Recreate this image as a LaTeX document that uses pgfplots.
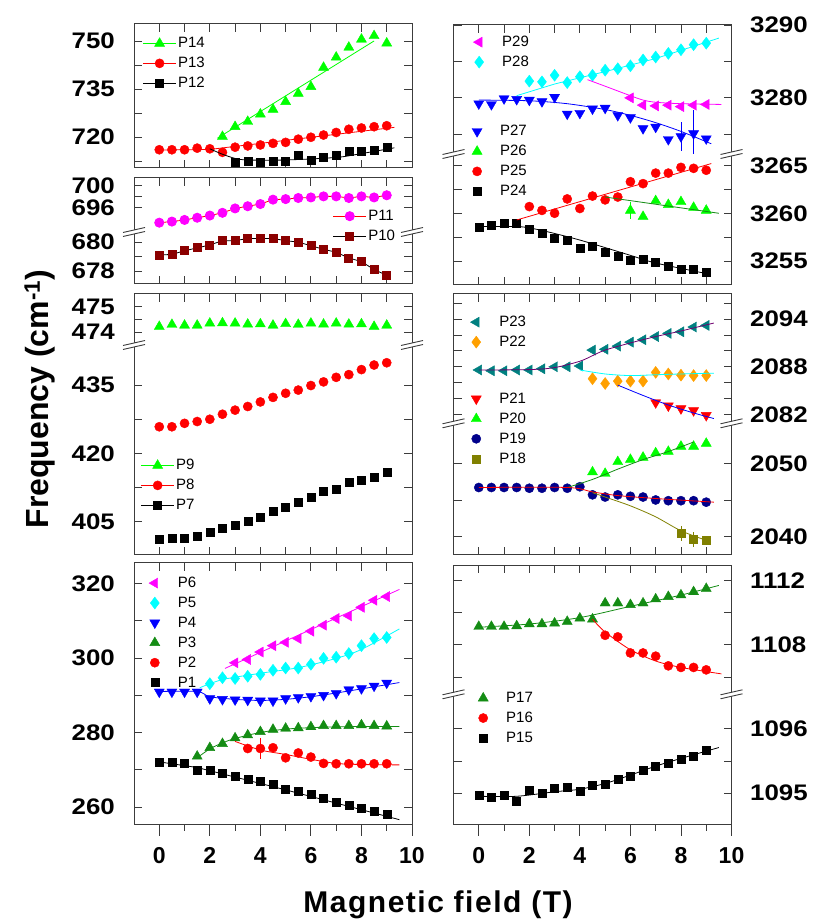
\documentclass[border=0pt]{standalone}
\usepackage{fontspec}
\setmainfont{Liberation Sans}
\newfontfamily\tickfont[FakeStretch=1.15]{Liberation Sans}
\usepackage{pgfplots}
\pgfplotsset{compat=1.18}

\definecolor{cgreen}{RGB}{0,255,0}
\definecolor{cred}{RGB}{255,0,0}
\definecolor{cmag}{RGB}{255,0,255}
\definecolor{cdred}{RGB}{139,0,0}
\definecolor{ccyan}{RGB}{0,255,255}
\definecolor{cblue}{RGB}{0,0,255}
\definecolor{cdgreen}{RGB}{20,140,20}
\definecolor{cteal}{RGB}{0,128,128}
\definecolor{corange}{RGB}{255,160,0}
\definecolor{cnavy}{RGB}{0,0,139}
\definecolor{colive}{RGB}{128,128,0}
\definecolor{cpurple}{RGB}{110,0,110}
\definecolor{cframe}{RGB}{60,60,60}

\pgfplotsset{
  base/.style={scale only axis, xmin=-1, xmax=10, width=278pt,
    xtick={0,2,4,6,8,10}, minor xtick={1,3,5,7,9}, xticklabels={},
    tick align=inside, major tick length=8pt, minor tick length=8pt,
    every tick/.style={cframe, line width=0.9pt},
    axis line style={draw=none},
    ytick pos=both,
    clip mode=individual,
    /pgf/number format/assume math mode=true,
    /pgf/number format/1000 sep={},
    scaled y ticks=false,
    legend cell align=left,
    legend style={draw=none, fill=none, font=\fontsize{15}{15}\selectfont, inner sep=0pt, row sep=0pt, nodes={inner xsep=2pt, inner ysep=4pt}},
  },
  Lcol/.style={base, yticklabel style={font=\tickfont\fontsize{22.5}{22.5}\selectfont\bfseries, inner sep=0pt, anchor=east, xshift=-19pt}},
  Rcol/.style={base, yticklabel pos=right, yticklabel style={font=\tickfont\fontsize{22.5}{22.5}\selectfont\bfseries, inner sep=0pt, anchor=west, xshift=18.5pt}},
  frame full/.style={after end axis/.append code={\draw[cframe, line width=1pt] (rel axis cs:0,0) rectangle (rel axis cs:1,1);}},
  frame up/.style={xtick pos=right, after end axis/.append code={\draw[cframe, line width=1pt] (rel axis cs:0,0) -- (rel axis cs:0,1) -- (rel axis cs:1,1) -- (rel axis cs:1,0);}},
  frame low/.style={xtick pos=left, after end axis/.append code={\draw[cframe, line width=1pt] (rel axis cs:0,1) -- (rel axis cs:0,0) -- (rel axis cs:1,0) -- (rel axis cs:1,1);}},
  legLM/.style={legend image code/.code={\path[draw=none, fill=none] (0pt,-4pt) rectangle (33pt,4pt); \draw[##1, overlay, line width=0.8pt] (0pt,0pt) -- (33pt,0pt); \draw[##1, overlay] plot coordinates {(16.5pt,0pt)};}},
  legM/.style={legend image code/.code={\path[draw=none, fill=none] (0pt,-4pt) rectangle (28pt,4pt); \draw[##1, overlay] plot coordinates {(7pt,0pt)};}},
  sq/.style={only marks, mark=square*, mark size=4pt},
  ci/.style={only marks, mark=*, mark size=4.6pt},
  tu/.style={only marks, mark=triangle*, mark size=5.8pt},
  td/.style={only marks, mark=triangle*, mark size=5.8pt, mark options={rotate=180}},
  tl/.style={only marks, mark=triangle*, mark size=5.8pt, mark options={rotate=90}},
  di/.style={only marks, mark=diamond*, mark size=6pt},
  fit/.style={no markers, line width=0.8pt, forget plot},
  ebar/.style={error bars/y dir=both, error bars/y explicit, error bars/error mark=none, error bars/error bar style={line width=0.8pt}},
  xbot/.style={base, hide y axis, ymin=0, ymax=1, xtick pos=left, tick align=outside,
    major tick length=11pt, minor tick length=6pt, xticklabels={0,2,4,6,8,10},
    xticklabel style={font=\fontsize{23}{23}\selectfont\bfseries, inner sep=0pt, anchor=north, yshift=-12pt}},
}

\newcommand{\brk}[2]{%
  \fill[white] (#1pt-11pt,#2pt-4.5pt) -- (#1pt+11pt,#2pt+0.5pt) -- (#1pt+11pt,#2pt+4.5pt) -- (#1pt-11pt,#2pt-0.5pt) -- cycle;
  \draw[cframe, line width=0.9pt] (#1pt-11pt,#2pt-4.5pt) -- (#1pt+11pt,#2pt+0.5pt);
  \draw[cframe, line width=0.9pt] (#1pt-11pt,#2pt-0.5pt) -- (#1pt+11pt,#2pt+4.5pt);}

\begin{document}
\begin{tikzpicture}
\useasboundingbox (0,0) rectangle (813pt,919pt);

% ================= LEFT COLUMN =================
% Panel A: P12-P14
\begin{axis}[Lcol, frame full, at={(134pt,751pt)}, anchor=south west, height=144pt,
  ymin=710.3, ymax=755.3, ytick={720,735,750}, minor ytick={712.5,727.5,742.5},
  legLM, legend style={at={(axis description cs:0.032,0.935)}, anchor=north west}]
\addplot[tu, color=cgreen] coordinates {(2.5,720.1)(3,723.2)(3.5,724.8)(4,727.1)(4.5,728.6)(5,731.0)(5.5,733.6)(6,735.7)(6.5,741.7)(7,744.9)(7.5,748.0)(8,750.5)(8.5,751.6)(9,749.3)};
\addlegendentry{P14}
\addplot[ci, color=cred] coordinates {(0,716.0)(0.5,716.0)(1,716.0)(1.5,716.5)(2,716.3)(2.5,715.2)(3,716.8)(3.5,717.2)(4,717.5)(4.5,718.0)(5,718.3)(5.5,719.3)(6,719.9)(6.5,720.6)(7,721.4)(7.5,722.4)(8,722.8)(8.5,723.2)(9,723.5)};
\addlegendentry{P13}
\addplot[sq, color=black, ebar] coordinates {(3,712.1)+-(0,0)(3.5,712.5)+-(0,0)(4,712.1)+-(0,0)(4.5,712.5)+-(0,0)(5,712.5)+-(0,0)(5.5,714.2)+-(0,0)(6,712.8)+-(0,0)(6.5,713.6)+-(0,0)(7,714.4)+-(0,0)(7.5,715.4)+-(0,0)(8,715.4)+-(0,0)(8.5,715.9)+-(0,0)(9,716.7)+-(0,1.2)};
\addlegendentry{P12}
\addplot[fit, cgreen] coordinates {(2.3,719.6)(8.5,750.0)};
\addplot[fit, cred] coordinates {(0,715.9)(2.0,716.1)(9.3,723.0)};
\addplot[fit, black, smooth] coordinates {(2.0,716.3)(2.5,714.6)(3.0,713.3)(3.5,712.8)(5,712.8)(7,713.6)(8,714.8)(9.3,716.6)};
\end{axis}

% Panel B upper: P11
\begin{axis}[Lcol, frame up, at={(134pt,687pt)}, anchor=south west, height=54pt,
  ymin=691.5, ymax=701.35, ytick={696,700}, minor ytick={698},
  legLM, legend style={at={(axis description cs:0.716,0.48)}, anchor=north west}]
\addplot[color=cred, line width=0.8pt, mark=*, mark size=4.6pt, mark options={fill=cmag, draw=cmag}] coordinates {(0,693.2)(0.5,693.4)(1,693.7)(1.5,694.1)(2,694.5)(2.5,695.0)(3,695.8)(3.5,696.2)(4,696.6)(4.5,697.4)(5,697.5)(5.5,697.7)(6,697.8)(6.5,698.0)(7,698.0)(7.5,697.7)(8,698.0)(8.5,697.8)(9,698.2)};
\addlegendentry{P11}
\addlegendimage{color=black, line width=0.8pt, mark=square*, mark size=4pt, mark options={fill=cdred, draw=cdred}}
\addlegendentry{P10}
\end{axis}
% Panel B lower: P10
\begin{axis}[Lcol, frame low, at={(134pt,635pt)}, anchor=south west, height=52pt,
  ymin=677.1, ymax=680.7, ytick={678,680}, minor ytick={679}]
\addplot[color=black, line width=0.8pt, mark=square*, mark size=4pt, mark options={fill=cdred, draw=cdred}] coordinates {(0,679.1)(0.5,679.15)(1,679.4)(1.5,679.6)(2,679.8)(2.5,680.1)(3,680.1)(3.5,680.25)(4,680.25)(4.5,680.25)(5,680.1)(5.5,680.0)(6,679.75)(6.5,679.5)(7,679.3)(7.5,678.9)(8,678.65)(8.5,678.1)(9,677.7)};
\end{axis}

% Panel C upper: P9
\begin{axis}[Lcol, frame up, at={(134pt,574pt)}, anchor=south west, height=51pt,
  ymin=473.5, ymax=475.5, ytick={474,475}, minor ytick={474.5}]
\addplot[tu, color=cgreen] coordinates {(0,474.22)(0.5,474.3)(1,474.27)(1.5,474.27)(2,474.35)(2.5,474.36)(3,474.35)(3.5,474.31)(4,474.32)(4.5,474.27)(5,474.33)(5.5,474.3)(6,474.35)(6.5,474.31)(7,474.35)(7.5,474.31)(8,474.32)(8.5,474.22)(9,474.27)};
\end{axis}
% Panel C lower: P7, P8
\begin{axis}[Lcol, frame low, at={(134pt,364pt)}, anchor=south west, height=210pt,
  ymin=397.7, ymax=443.8, ytick={405,420,435}, minor ytick={412.5,427.5},
  legLM, legend style={at={(axis description cs:0.025,0.475)}, anchor=north west}]
\addlegendimage{tu, color=cgreen}
\addlegendentry{P9}
\addplot[ci, color=cred] coordinates {(0,425.85)(0.5,425.85)(1,426.6)(1.5,427.0)(2,427.5)(2.5,428.6)(3,429.5)(3.5,430.3)(4,431.3)(4.5,432.3)(5,433.2)(5.5,433.9)(6,434.9)(6.5,435.7)(7,436.7)(7.5,437.3)(8,438.4)(8.5,439.4)(9,439.9)};
\addlegendentry{P8}
\addplot[sq, color=black] coordinates {(0,401.1)(0.5,401.3)(1,401.3)(1.5,401.9)(2,402.7)(2.5,403.5)(3,404.3)(3.5,405.2)(4,406.1)(4.5,407.3)(5,408.3)(5.5,409.2)(6,410.3)(6.5,411.7)(7,412.2)(7.5,413.6)(8,414.1)(8.5,414.8)(9,415.8)};
\addlegendentry{P7}
\end{axis}

% Panel D: P1-P6
\begin{axis}[Lcol, frame full, xtick pos=right, at={(134pt,94.5pt)}, anchor=south west, height=261.5pt,
  ymin=255.3, ymax=325.5, ytick={260,280,300,320}, minor ytick={270,290,310},
  legM, legend style={at={(axis description cs:0.049,0.962)}, anchor=north west}]
\addplot[tl, color=cmag] coordinates {(3,298.7)(3.5,299.6)(4,301.6)(4.5,303.3)(5,304.2)(5.5,305.2)(6,307.2)(6.5,308.8)(7,310.6)(7.5,311.3)(8,313.6)(8.5,315.5)(9,316.5)};
\addlegendentry{P6}
\addplot[di, color=ccyan] coordinates {(2,293.1)(2.5,294.7)(3,294.5)(3.5,295.1)(4,295.6)(4.5,296.7)(5,297.3)(5.5,297.3)(6,298.3)(6.5,299.9)(7,300.2)(7.5,301.2)(8,303.3)(8.5,305.2)(9,305.5)};
\addlegendentry{P5}
\addplot[td, color=cblue] coordinates {(0,290.9)(0.5,290.9)(1,290.9)(1.5,290.9)(2,289.1)(2.5,288.9)(3,288.8)(3.5,288.7)(4,288.5)(4.5,288.5)(5,289.1)(5.5,289.4)(6,289.7)(6.5,290.0)(7,290.5)(7.5,291.5)(8,291.8)(8.5,292.5)(9,293.3)};
\addlegendentry{P4}
\addplot[tu, color=cdgreen] coordinates {(1.5,273.6)(2,275.9)(2.5,277.0)(3,278.5)(3.5,279.3)(4,280.2)(4.5,280.8)(5,281.1)(5.5,281.2)(6,281.5)(6.5,281.8)(7,281.8)(7.5,281.8)(8,282.0)(8.5,281.8)(9,281.7)};
\addlegendentry{P3}
\addplot[ci, color=cred, ebar] coordinates {(3.5,275.7)+-(0,0)(4,275.7)+-(0,2.7)(4.5,275.9)+-(0,0)(5,273.2)+-(0,0)(5.5,274.5)+-(0,0)(6,273.4)+-(0,0)(6.5,271.7)+-(0,0)(7,271.6)+-(0,0)(7.5,271.6)+-(0,0)(8,271.6)+-(0,0)(8.5,271.6)+-(0,0)(9,271.6)+-(0,0)};
\addlegendentry{P2}
\addplot[sq, color=black] coordinates {(0,272.1)(0.5,271.9)(1,271.7)(1.5,270.0)(2,269.8)(2.5,269.0)(3,268.3)(3.5,267.4)(4,266.9)(4.5,266.0)(5,264.9)(5.5,264.3)(6,263.3)(6.5,262.3)(7,261.4)(7.5,260.6)(8,259.7)(8.5,258.9)(9,258.0)};
\addlegendentry{P1}
\addplot[fit, cmag] coordinates {(2.6,297.2)(9.5,318.4)};
\addplot[fit, ccyan, smooth] coordinates {(1.6,292.0)(2.5,294.2)(4,295.9)(5.5,297.4)(7,299.9)(8,302.3)(9.5,307.8)};
\addplot[fit, cblue, smooth] coordinates {(0,291.0)(1.5,291.0)(2,289.6)(3,288.9)(4,288.6)(5,288.9)(6,289.6)(7,290.6)(8,291.7)(9.5,293.4)};
\addplot[fit, cdgreen, smooth] coordinates {(1.5,273.2)(2,275.6)(2.5,277.2)(3,278.4)(4,280.0)(5,280.9)(6,281.3)(7,281.5)(8,281.6)(9.5,281.6)};
\addplot[fit, cred, smooth] coordinates {(3,277.6)(4,275.3)(5,274.1)(6,272.8)(7,271.7)(8,271.4)(9.5,271.3)};
\addplot[fit, black] coordinates {(0,272.1)(1.5,270.6)(5,264.6)(9.5,256.6)};
\end{axis}
\begin{axis}[xbot, at={(134pt,94.5pt)}, anchor=south west, height=261.5pt]
\addplot[draw=none, forget plot] coordinates {(0,0.5)};
\end{axis}

% ================= RIGHT COLUMN =================
% Panel E upper: P27-P29
\begin{axis}[Rcol, frame up, at={(453.5pt,765pt)}, anchor=south west, height=129pt,
  ymin=3272.3, ymax=3290, ytick={3280,3290}, minor ytick={3275,3285},
  legM, legend style={at={(axis description cs:0.0665,0.946)}, anchor=north west}]
\addplot[tl, color=cmag] coordinates {(6,3280.0)(6.5,3279.0)(7,3278.9)(7.5,3279.0)(8,3278.8)(8.5,3279.0)(9,3279.1)};
\addlegendentry{P29}
\addplot[di, color=ccyan] coordinates {(2,3282.3)(2.5,3282.2)(3,3283.1)(3.5,3282.1)(4,3282.9)(4.5,3283.1)(5,3283.8)(5.5,3284.0)(6,3284.4)(6.5,3285.2)(7,3285.6)(7.5,3286.1)(8,3286.6)(8.5,3287.3)(9,3287.5)};
\addlegendentry{P28}
\addplot[td, color=cblue, forget plot, ebar] coordinates {(0,3279.2)+-(0,0)(0.5,3279.1)+-(0,0)(1,3279.9)+-(0,0)(1.5,3279.8)+-(0,0)(2,3279.7)+-(0,0)(2.5,3279.5)+-(0,0)(3,3280.1)+-(0,0)(3.5,3277.8)+-(0,0)(4,3277.9)+-(0,0)(4.5,3278.5)+-(0,0)(5,3278.6)+-(0,0)(5.5,3277.6)+-(0,0)(6,3277.3)+-(0,0)(6.5,3275.8)+-(0,0)(7,3276.0)+-(0,0)(7.5,3274.3)+-(0,0)(8,3274.7)+-(0,2.0)(8.5,3275.1)+-(0,3.2)(9,3274.4)+-(0,0)};
\addplot[fit, cmag, smooth] coordinates {(4.3,3282.5)(5,3281.6)(6,3280.3)(6.5,3279.7)(7,3279.4)(8,3279.2)(9.6,3279.1)};
\addplot[fit, ccyan] coordinates {(1.5,3280.3)(3,3281.9)(5,3283.6)(7,3285.4)(9.5,3288.2)};
\addplot[fit, cblue, smooth] coordinates {(0,3279.7)(2,3279.6)(3.5,3279.2)(5,3278.4)(6,3277.6)(7,3276.6)(8,3275.4)(9.2,3273.7)};
\end{axis}
% Panel E lower: P24-P26
\begin{axis}[Rcol, frame low, at={(453.5pt,634pt)}, anchor=south west, height=131pt,
  ymin=3252.5, ymax=3266.2, ytick={3255,3260,3265}, minor ytick={3257.5,3262.5},
  legM, legend style={at={(axis description cs:0.059,1.25)}, anchor=north west}]
\addlegendimage{td, color=cblue}
\addlegendentry{P27}
\addplot[tu, color=cgreen, ebar] coordinates {(6,3260.3)+-(0,0.9)(6.5,3259.65)+-(0,0)(7,3261.3)+-(0,0)(7.5,3260.9)+-(0,0)(8,3261.2)+-(0,0)(8.5,3260.6)+-(0,0)(9,3260.3)+-(0,0)};
\addlegendentry{P26}
\addplot[ci, color=cred] coordinates {(2,3260.7)(2.5,3260.3)(3,3260.0)(3.5,3261.5)(4,3260.5)(4.5,3261.8)(5,3261.4)(5.5,3261.7)(6,3263.3)(6.5,3263.1)(7,3264.2)(7.5,3264.2)(8,3264.8)(8.5,3264.7)(9,3264.5)};
\addlegendentry{P25}
\addplot[sq, color=black] coordinates {(0,3258.5)(0.5,3258.8)(1,3258.95)(1.5,3259.0)(2,3258.3)(2.5,3257.9)(3,3257.4)(3.5,3257.2)(4,3256.3)(4.5,3256.6)(5,3255.9)(5.5,3255.5)(6,3255.1)(6.5,3255.2)(7,3254.9)(7.5,3254.5)(8,3254.2)(8.5,3254.2)(9,3253.85)};
\addlegendentry{P24}
\addplot[fit, cdgreen] coordinates {(5,3261.7)(9.5,3260.0)};
\addplot[fit, cred] coordinates {(1.5,3259.3)(9.2,3265.2)};
\addplot[fit, black, smooth] coordinates {(0,3258.6)(1.6,3258.6)(2.5,3258.2)(4,3257.2)(6,3255.6)(7,3254.8)(9,3253.7)};
\end{axis}

% Panel F upper: P21-P23
\begin{axis}[Rcol, frame up, at={(453.5pt,495.7pt)}, anchor=south west, height=129.3pt,
  ymin=2080.9, ymax=2097.15, ytick={2082,2088,2094}, minor ytick={2084,2086,2090,2092,2096},
  legM, legend style={at={(axis description cs:0.056,0.861)}, anchor=north west}]
\addplot[tl, color=cteal] coordinates {(0,2087.6)(0.5,2087.5)(1,2087.5)(1.5,2087.6)(2,2087.6)(2.5,2087.75)(3,2088.0)(3.5,2088.0)(4,2088.1)(4.5,2090.1)(5,2090.2)(5.5,2090.6)(6,2091.1)(6.5,2091.4)(7,2091.8)(7.5,2092.2)(8,2092.4)(8.5,2093.0)(9,2093.2)};
\addlegendentry{P23}
\addplot[di, color=corange] coordinates {(4.5,2086.5)(5,2085.9)(5.5,2086.2)(6,2086.2)(6.5,2086.2)(7,2087.3)(7.5,2087.1)(8,2086.95)(8.5,2086.9)(9,2086.9)};
\addlegendentry{P22}
\addplot[td, color=cred, forget plot] coordinates {(7,2083.5)(7.5,2083.1)(8,2082.75)(8.5,2082.5)(9,2081.9)};
\addplot[fit, cpurple, smooth] coordinates {(0,2087.6)(2,2087.65)(3,2087.9)(4,2088.7)(4.5,2089.4)(5,2090.1)(6,2091.0)(7,2091.8)(8,2092.5)(9.3,2093.5)};
\addplot[fit, ccyan, smooth] coordinates {(4,2087.6)(5,2087.1)(6,2086.9)(7,2087.0)(8,2087.1)(9.3,2087.2)};
\addplot[fit, cblue, smooth] coordinates {(5.5,2085.7)(6.5,2084.4)(7.5,2083.2)(8.5,2082.2)(9.3,2081.5)};
\end{axis}
% Panel F lower: P18-P20
\begin{axis}[Rcol, frame low, at={(453.5pt,364pt)}, anchor=south west, height=131.7pt,
  ymin=2037.5, ymax=2055.45, ytick={2040,2050}, minor ytick={2045},
  legM, legend style={at={(axis description cs:0.056,1.263)}, anchor=north west}]
\addlegendimage{td, color=cred}
\addlegendentry{P21}
\addplot[tu, color=cgreen] coordinates {(4.5,2048.8)(5,2048.6)(5.5,2050.2)(6,2050.5)(6.5,2050.8)(7,2051.4)(7.5,2051.6)(8,2052.3)(8.5,2052.3)(9,2052.7)};
\addlegendentry{P20}
\addplot[ci, color=cnavy] coordinates {(0,2046.7)(0.5,2046.7)(1,2046.7)(1.5,2046.7)(2,2046.6)(2.5,2046.6)(3,2046.7)(3.5,2046.6)(4,2046.8)(4.5,2045.7)(5,2045.4)(5.5,2045.7)(6,2045.5)(6.5,2045.4)(7,2045.0)(7.5,2044.9)(8,2044.9)(8.5,2044.9)(9,2044.7)};
\addlegendentry{P19}
\addplot[sq, color=colive, ebar] coordinates {(8,2040.45)+-(0,1.0)(8.5,2039.6)+-(0,1.0)(9,2039.5)+-(0,0)};
\addlegendentry{P18}
\addplot[fit, cdgreen, smooth] coordinates {(3.5,2046.7)(4.5,2047.8)(5.5,2049.2)(6.5,2050.5)(7.5,2051.6)(8.5,2052.9)};
\addplot[fit, cred, smooth] coordinates {(0,2046.7)(3.5,2046.7)(4.5,2046.1)(5.5,2045.6)(7,2045.2)(9.3,2044.7)};
\addplot[fit, colive, smooth] coordinates {(4.5,2046.0)(5,2045.4)(6,2044.2)(7,2042.7)(8,2040.8)(9,2039.5)};
\end{axis}

% Panel G upper: P16, P17
\begin{axis}[Rcol, frame up, at={(453.5pt,224.7pt)}, anchor=south west, height=129.3pt,
  ymin=1104.93, ymax=1112.97, ytick={1108,1112}, minor ytick={1106,1110}]
\addplot[tu, color=cdgreen] coordinates {(0,1109.14)(0.5,1109.14)(1,1109.14)(1.5,1109.18)(2,1109.3)(2.5,1109.3)(3,1109.35)(3.5,1109.45)(4,1109.66)(4.5,1109.6)(5,1110.6)(5.5,1110.6)(6,1110.5)(6.5,1110.6)(7,1110.85)(7.5,1111.0)(8,1111.1)(8.5,1111.3)(9,1111.5)};
\addplot[ci, color=cred] coordinates {(5,1108.6)(5.5,1108.5)(6,1107.5)(6.5,1107.5)(7,1107.3)(7.5,1106.7)(8,1106.6)(8.5,1106.6)(9,1106.45)};
\addplot[fit, cdgreen, smooth] coordinates {(0,1109.1)(2,1109.3)(4,1109.7)(6,1110.4)(8,1111.1)(9.5,1111.7)};
\addplot[fit, cred, smooth] coordinates {(4.5,1109.6)(5,1108.8)(6,1107.7)(7,1107.0)(8,1106.6)(9.6,1106.2)};
\end{axis}
% Panel G lower: P15
\begin{axis}[Rcol, frame low, xtick=\empty, minor xtick={}, at={(453.5pt,94.5pt)}, anchor=south west, height=130.2pt,
  ymin=1094.51, ymax=1096.54, ytick={1095,1096}, minor ytick={1095.5},
  legM, legend style={at={(axis description cs:0.081,1.048)}, anchor=north west}]
\addlegendimage{tu, color=cdgreen}
\addlegendentry{P17}
\addlegendimage{ci, color=cred}
\addlegendentry{P16}
\addplot[sq, color=black] coordinates {(0,1094.97)(0.5,1094.93)(1,1094.97)(1.5,1094.87)(2,1095.04)(2.5,1095.0)(3,1095.08)(3.5,1095.09)(4,1095.03)(4.5,1095.13)(5,1095.14)(5.5,1095.22)(6,1095.27)(6.5,1095.35)(7,1095.42)(7.5,1095.47)(8,1095.53)(8.5,1095.58)(9,1095.67)};
\addlegendentry{P15}
\addplot[fit, black, smooth] coordinates {(0,1094.95)(1.5,1094.95)(3,1095.02)(4,1095.06)(5,1095.15)(6,1095.28)(7,1095.42)(8,1095.54)(9.5,1095.71)};
\end{axis}
\begin{axis}[xbot, at={(453.5pt,94.5pt)}, anchor=south west, height=130.2pt]
\addplot[draw=none, forget plot] coordinates {(0,0.5)};
\end{axis}

% break marks
\brk{134}{687}
\brk{412}{687}
\brk{134}{574}
\brk{412}{574}
\brk{453.5}{765}
\brk{731.5}{765}
\brk{453.5}{495.7}
\brk{731.5}{495.7}
\brk{453.5}{224.7}
\brk{731.5}{224.7}

% axis titles
\node[rotate=90, font=\fontsize{32}{32}\selectfont\bfseries] at (40pt,520pt) {Frequency (cm\textsuperscript{-1})};
\node[anchor=base, font=\fontsize{30}{30}\selectfont\bfseries\addfontfeatures{LetterSpace=5}] at (438pt,6pt) {Magnetic field (T)};
\end{tikzpicture}
\end{document}
